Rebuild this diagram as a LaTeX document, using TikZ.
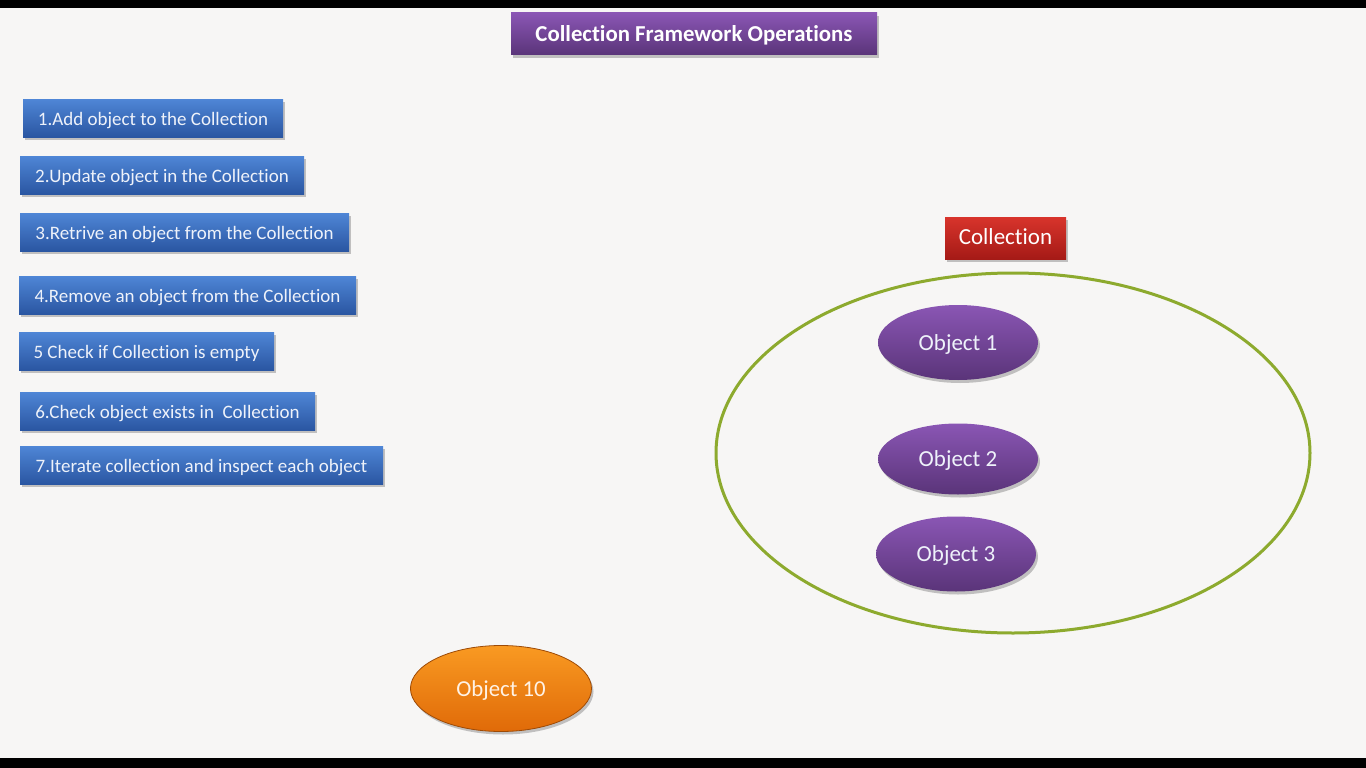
\documentclass[tikz,border=0pt]{standalone}
\usepackage{fontspec}
\setmainfont{Carlito}[Ligatures=NoCommon]
\usetikzlibrary{shapes.geometric,shadows}
\definecolor{bgc}{HTML}{F7F6F5}
\definecolor{blueT}{HTML}{4F86D6}
\definecolor{blueB}{HTML}{2A56A2}
\definecolor{purT}{HTML}{8A56B4}
\definecolor{purB}{HTML}{5A3479}
\definecolor{redT}{HTML}{D8342C}
\definecolor{redB}{HTML}{A51A16}
\definecolor{orgT}{HTML}{F99A22}
\definecolor{orgB}{HTML}{E06A08}
\definecolor{ringc}{HTML}{8DAA2E}
\definecolor{txtlight}{HTML}{EEF2FA}
\tikzset{
  shad/.style={drop shadow={shadow xshift=2pt,shadow yshift=-3pt,opacity=0.22,fill=black}},
  opbox/.style={rectangle,shad,text height=19pt,text depth=3.5pt,top color=blueT,bottom color=blueB,text=txtlight,
    inner sep=0pt,font=\fontsize{19}{22}\selectfont,draw=none},
  titlebox/.style={rectangle,shad,text height=18pt,text depth=3.6pt,top color=purT,bottom color=purB,text=white,
    inner sep=0pt,font=\bfseries\fontsize{22.8}{26}\selectfont},
  collbox/.style={rectangle,shad,text height=18pt,text depth=4.5pt,top color=redT,bottom color=redB,text=white,
    inner sep=0pt,font=\fontsize{23}{27}\selectfont},
  objell/.style={ellipse,shad,text height=20pt,text depth=4.5pt,top color=purT,bottom color=purB,text=txtlight,
    inner sep=0pt,font=\fontsize{23}{27}\selectfont},
  orgell/.style={ellipse,shad,text height=20pt,text depth=4.5pt,top color=orgT,bottom color=orgB,text=white!90!orange,
    draw=orgB!70!black,line width=0.8pt,inner sep=0pt,font=\fontsize{22.8}{26}\selectfont},
  ringst/.style={ellipse,draw=ringc,line width=3pt,inner sep=0pt}
}
\begin{document}
\begin{tikzpicture}[x=1pt,y=-1pt]
\useasboundingbox (0,0) rectangle (1366,768);
\fill[bgc] (0,0) rectangle (1366,768);
\fill[black] (0,0) rectangle (1366,8);
\fill[black] (0,758) rectangle (1366,768);
% title
\node[titlebox,minimum width=366pt,minimum height=42pt] (t) at (694,34) {Collection Framework Operations};
% operation boxes
\node[opbox,minimum width=260pt,minimum height=38pt] (b1) at (153,118) {1.Add object to the Collection};
\node[opbox,minimum width=284pt,minimum height=38pt] (b2) at (162,175) {2.Update object in the Collection};
\node[opbox,minimum width=329pt,minimum height=38pt] (b3) at (184.5,232) {3.Retrive an object from the Collection};
\node[opbox,minimum width=337pt,minimum height=38pt] (b4) at (187.5,295) {4.Remove an object from the Collection};
\node[opbox,minimum width=255pt,minimum height=38pt] (b5) at (146.5,351) {5 Check if Collection is empty};
\node[opbox,minimum width=295pt,minimum height=38pt] (b6) at (167.5,411) {6.Check object exists in\ \ Collection};
\node[opbox,minimum width=363pt,minimum height=38pt] (b7) at (201.5,465) {7.Iterate collection and inspect each object};
% collection
\node[collbox,minimum width=121pt,minimum height=42pt] (coll) at (1005.5,238) {Collection};
\node[ringst,minimum width=594pt,minimum height=360pt] (ring) at (1013,453) {};
\node[objell,minimum width=160pt,minimum height=75pt] (o1) at (958,342.5) {Object 1};
\node[objell,minimum width=160pt,minimum height=71pt] (o2) at (958,459) {Object 2};
\node[objell,minimum width=160pt,minimum height=75pt] (o3) at (956,554) {Object 3};
% object 10
\node[orgell,minimum width=181pt,minimum height=86pt] (o10) at (501,688.5) {Object 10};
\end{tikzpicture}
\end{document}
